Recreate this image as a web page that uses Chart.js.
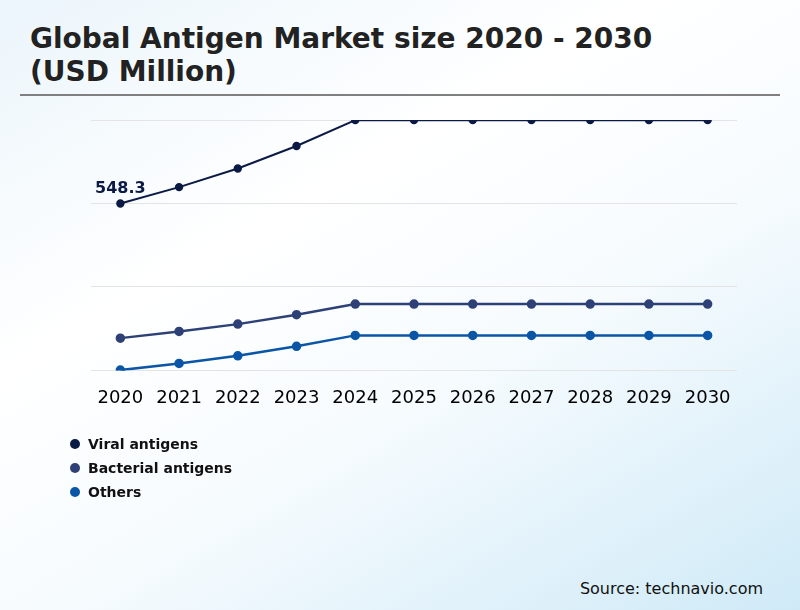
<!DOCTYPE html>
<html>
<head>
<meta charset="utf-8">
<script src="https://cdn.jsdelivr.net/npm/chart.js@4"></script>
<style>
  html, body { margin: 0; padding: 0; }
  body {
    width: 800px; height: 610px; position: relative; overflow: hidden;
    font-family: "DejaVu Sans", sans-serif;
    background: linear-gradient(150deg, #ebf5fb 0%, #ffffff 35%, #f6fbfe 60%, #cfeaf7 100%);
  }
  #title {
    position: absolute; left: 30px; top: 22px; margin: 0;
    font-size: 28px; font-weight: bold; line-height: 33px; color: #222;
  }
  #rule { position: absolute; left: 20px; top: 94px; width: 760px; height: 2px; background: #808080; }
  #box { position: absolute; left: 80px; top: 110px; width: 670px; height: 326px; }
  #legend { position: absolute; left: 70px; top: 432px; }
  .item { display: flex; align-items: center; height: 24px; font-size: 14px; font-weight: bold; color: #111; }
  .dot { width: 10px; height: 10px; border-radius: 50%; margin-right: 8px; }
  #source { position: absolute; right: 37px; top: 579px; font-size: 16px; color: #111; }
</style>
</head>
<body>
<h1 id="title">Global Antigen Market size 2020 - 2030<br>(USD Million)</h1>
<div id="rule"></div>
<div id="box"><canvas id="myChart"></canvas></div>
<div id="legend"></div>
<div id="source">Source: technavio.com</div>
<script>
const years = ['2020', '2021', '2022', '2023', '2024', '2025', '2026', '2027', '2028', '2029', '2030'];

const viral = [548.3, 602, 663, 737, 822, 822, 822, 822, 822, 822, 822];
const bacterial = [106, 128, 152, 183, 218, 218, 218, 218, 218, 218, 218];
const others = [1, 23, 48, 79, 115, 115, 115, 115, 115, 115, 115];

const names = ['Viral antigens', 'Bacterial antigens', 'Others'];
const colors = ['#0b1a45', '#2e4177', '#0a55a5'];

const data = {
  labels: years,
  datasets: [{
    label: names[0],
    data: viral,
    borderColor: colors[0],
    backgroundColor: colors[0],
    borderWidth: 2,
    pointRadius: 3.2,
  }, {
    label: names[1],
    data: bacterial,
    borderColor: colors[1],
    backgroundColor: colors[1],
    borderWidth: 2.5,
  }, {
    label: names[2],
    data: others,
    borderColor: colors[2],
    backgroundColor: colors[2],
    borderWidth: 2.5,
  }]
};

// first value of the top series written above its point
const firstLabel = {
  id: 'firstLabel',
  afterDatasetsDraw(chart) {
    const pt = chart.getDatasetMeta(0).data[0];
    const ctx = chart.ctx;
    ctx.save();
    ctx.font = 'bold 16px "DejaVu Sans"';
    ctx.fillStyle = colors[0];
    ctx.textAlign = 'center';
    ctx.textBaseline = 'middle';
    ctx.fillText(viral[0].toFixed(1), pt.x, pt.y - 15);
    ctx.restore();
  }
};

const config = {
  type: 'line',
  data: data,
  plugins: [firstLabel],
  options: {
    responsive: true,
    maintainAspectRatio: false,
    animation: false,
    layout: { padding: { left: 10, right: 13, top: 10, bottom: 10 } },
    elements: {
      point: { radius: 3.5, hoverRadius: 4 },
      line: { tension: 0 }
    },
    scales: {
      x: {
        offset: true,
        grid: { display: false, drawTicks: false },
        border: { display: false },
        ticks: {
          padding: 17,
          color: '#000',
          font: { family: 'DejaVu Sans', size: 18 },
          maxRotation: 0,
          autoSkip: false
        }
      },
      y: {
        min: 0,
        max: 822.45,
        ticks: { display: false, stepSize: 274.15 },
        grid: { color: '#e4e4e4', drawTicks: false, tickLength: 0 },
        border: { display: false }
      }
    },
    plugins: {
      legend: { display: false },
      tooltip: { enabled: false }
    }
  }
};

const myChart = new Chart(document.getElementById('myChart'), config);

const legend = document.getElementById('legend');
names.forEach((n, i) => {
  const row = document.createElement('div');
  row.className = 'item';
  row.innerHTML = '<span class="dot" style="background:' + colors[i] + '"></span>' + n;
  legend.appendChild(row);
});
</script>
</body>
</html>
